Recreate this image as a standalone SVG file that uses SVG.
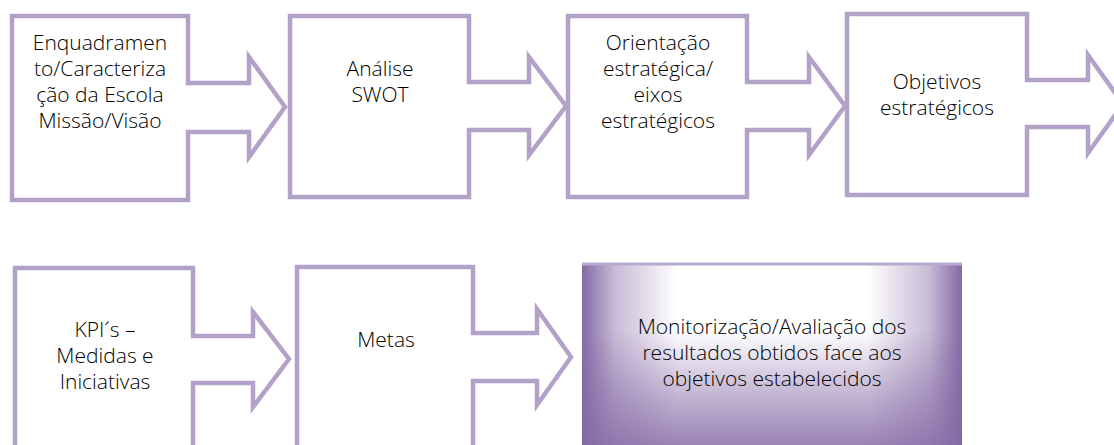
<svg xmlns="http://www.w3.org/2000/svg" width="1114" height="445" viewBox="0 0 1114 445">
<style>
.sh{fill:#ffffff;stroke:#b3a2c7;stroke-width:4.5;stroke-linejoin:miter}
.t{font-family:"Open Sans","Noto Sans","Liberation Sans",sans-serif;font-weight:300;font-size:21px;fill:#000000;text-anchor:middle}
</style>
<defs>
<linearGradient id="gl" x1="0" y1="0" x2="1" y2="0">
<stop offset="0" stop-color="#8469a4" stop-opacity="1"/>
<stop offset="0.35" stop-color="#8469a4" stop-opacity="0.45"/>
<stop offset="1" stop-color="#8469a4" stop-opacity="0"/>
</linearGradient>
<linearGradient id="gr" x1="1" y1="0" x2="0" y2="0">
<stop offset="0" stop-color="#8469a4" stop-opacity="1"/>
<stop offset="0.35" stop-color="#8469a4" stop-opacity="0.45"/>
<stop offset="1" stop-color="#8469a4" stop-opacity="0"/>
</linearGradient>
<linearGradient id="gb" x1="0" y1="0" x2="0" y2="1">
<stop offset="0" stop-color="#8469a4" stop-opacity="0"/>
<stop offset="0.55" stop-color="#8469a4" stop-opacity="0.5"/>
<stop offset="1" stop-color="#8469a4" stop-opacity="0.85"/>
</linearGradient>
</defs>
<g id="connectors"></g>
<g id="n1">
<polygon class="sh" points="12,16 188,16 188,83 249,83 249,57 285,107 249,157 249,132 188,132 188,200 12,200"/>
<text class="t" x="100" y="50">Enquadramen</text>
<text class="t" x="100" y="76">to/Caracteriza</text>
<text class="t" x="100" y="102">ção da Escola</text>
<text class="t" x="100" y="128">Missão/Visão</text>
</g>
<g id="n2">
<polygon class="sh" points="290,16 469,16 469,82 529,82 529,57 566,106 529,155 529,130 469,130 469,197 290,197"/>
<text class="t" x="380" y="76">Análise</text>
<text class="t" x="380" y="102">SWOT</text>
</g>
<g id="n3">
<polygon class="sh" points="568,16 747,16 747,82 809,82 809,57 845,106 809,155 809,130 747,130 747,197 568,197"/>
<text class="t" x="658" y="50">Orientação</text>
<text class="t" x="658" y="76">estratégica/</text>
<text class="t" x="658" y="102">eixos</text>
<text class="t" x="658" y="128">estratégicos</text>
</g>
<g id="n4">
<polygon class="sh" points="847,14 1027,14 1027,80 1088,80 1088,55 1123,104 1088,153 1088,127 1027,127 1027,195 847,195"/>
<text class="t" x="937" y="89">Objetivos</text>
<text class="t" x="937" y="115">estratégicos</text>
</g>
<g id="n5">
<polygon class="sh" points="15,268 193,268 193,336 253,336 253,312 289,359 253,407 253,383 193,383 193,470 15,470"/>
<text class="t" x="105" y="337">KPI´s –</text>
<text class="t" x="105" y="363">Medidas e</text>
<text class="t" x="105" y="389">Iniciativas</text>
</g>
<g id="n6">
<polygon class="sh" points="297,267 473,267 473,333 537,333 537,309 571,357 537,405 537,381 473,381 473,470 297,470"/>
<text class="t" x="386" y="347">Metas</text>
</g>
<g id="n7">
<rect x="582" y="263" width="380" height="200" fill="#ffffff"/>
<rect x="582" y="263" width="95" height="200" fill="url(#gl)"/>
<rect x="867" y="263" width="95" height="200" fill="url(#gr)"/>
<rect x="582" y="330" width="380" height="120" fill="url(#gb)"/>
<line x1="582" y1="264" x2="962" y2="264" stroke="#b9a9cf" stroke-width="3"/>
<text class="t" x="772" y="334">Monitorização/Avaliação dos</text>
<text class="t" x="772" y="360">resultados obtidos face aos</text>
<text class="t" x="772" y="386">objetivos estabelecidos</text>
</g>
</svg>
